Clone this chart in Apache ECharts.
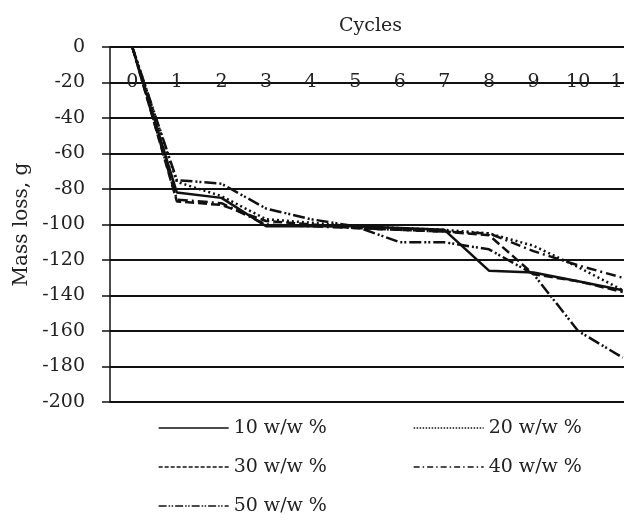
<!DOCTYPE html>
<html>
<head>
<meta charset="utf-8">
<script src="https://cdn.jsdelivr.net/npm/echarts@6/dist/echarts.min.js"></script>
<style>
  html, body { margin: 0; padding: 0; background: #fff; }
  #chart { width: 624px; height: 520px; }
</style>
</head>
<body>
<div id="chart"></div>
<script>
// cycles (top axis)
const cycles = ['0', '1', '2', '3', '4', '5', '6', '7', '8', '9', '10', '11']
const seriesNames = ['10 w/w %', '20 w/w %', '30 w/w %', '40 w/w %', '50 w/w %']

// mass loss, g
const loss10 = [0, -82, -85, -101, -101, -101, -102, -103, -126, -127, -132, -137]
const loss20 = [0, -76, -84, -97, -99, -101, -102, -103, -105, -112, -124, -137]
const loss30 = [0, -87, -89, -98, -100, -102, -103, -104, -106, -128, -132, -138]
const loss40 = [0, -86, -88, -100, -101, -102, -103, -104, -105, -115, -123, -130]
const loss50 = [0, -75, -77, -91, -97, -101, -110, -110, -114, -128, -160, -175]
const allLoss = [loss10, loss20, loss30, loss40, loss50]

const yTicks = { min: -200, max: 0, step: 20 }

// dash patterns: in the plot, and the thinner ones of the legend
const plotDash = ['solid', [2, 3], [9, 4], [10, 4, 2, 4], [12, 3, 2, 2, 2, 3]]
const legendDash = ['solid', [1.5, 1.5], [4, 2], [6, 3, 1.5, 3], [8, 2, 1.5, 1.5, 1.5, 2]]

const FONT = 'DejaVu Serif'
const INK = '#111'

const chart = echarts.init(document.getElementById('chart'))

// legend sample = line only, the marker is hidden
const legendItem = i => ({
  name: seriesNames[i],
  itemStyle: { color: 'rgba(0,0,0,0)', borderWidth: 0, opacity: 0 },
  lineStyle: { width: 1.3, type: legendDash[i], color: INK }
})

const legendBase = {
  orient: 'vertical',
  padding: 0,
  height: 110,
  itemWidth: 70,
  itemHeight: 20,
  itemGap: 19,
  textStyle: { fontFamily: FONT, fontSize: 19, color: '#222', lineHeight: 20 }
}

const option = {
  animation: false,
  backgroundColor: '#fff',
  color: [INK, INK, INK, INK, INK],
  textStyle: { fontFamily: FONT },
  // plot runs past the right edge of the picture, like the original
  grid: { left: 110, top: 47, width: 535, height: 355, outerBoundsMode: 'none', containLabel: false },
  legend: [
    Object.assign({ left: 158, top: 418, data: [0, 2, 4].map(legendItem) }, legendBase),
    Object.assign({ left: 413, top: 418, data: [1, 3].map(legendItem) }, legendBase)
  ],
  xAxis: {
    type: 'category',
    position: 'top',
    data: cycles,
    name: 'Cycles',
    nameLocation: 'middle',
    nameGap: 11,
    nameTextStyle: { fontFamily: FONT, fontSize: 19, color: '#222', padding: [0, 14, 0, 0] },
    axisLine: { lineStyle: { color: INK, width: 1.5 } },
    axisTick: { inside: true, length: 8, lineStyle: { color: INK, width: 1.5 } },
    axisLabel: { inside: true, margin: 26, fontFamily: FONT, fontSize: 19, color: '#222' },
    splitLine: { show: false }
  },
  yAxis: {
    type: 'value',
    min: yTicks.min,
    max: yTicks.max,
    interval: yTicks.step,
    name: 'Mass loss, g',
    nameLocation: 'middle',
    nameGap: 76,
    nameTextStyle: { fontFamily: FONT, fontSize: 20, color: '#222' },
    axisLine: { show: true, lineStyle: { color: INK, width: 1.5 } },
    axisTick: { show: true, length: 8, lineStyle: { color: INK, width: 1.5 } },
    axisLabel: { margin: 25, fontFamily: FONT, fontSize: 19, color: '#222' },
    splitLine: { lineStyle: { color: INK, width: 2 } }
  },
  series: allLoss.map((vals, i) => ({
    name: seriesNames[i],
    type: 'line',
    data: vals,
    symbol: 'none',
    z: 10 - i,
    itemStyle: { color: INK },
    lineStyle: { color: INK, width: 2.5, type: plotDash[i] }
  }))
}

chart.setOption(option)
</script>
</body>
</html>
